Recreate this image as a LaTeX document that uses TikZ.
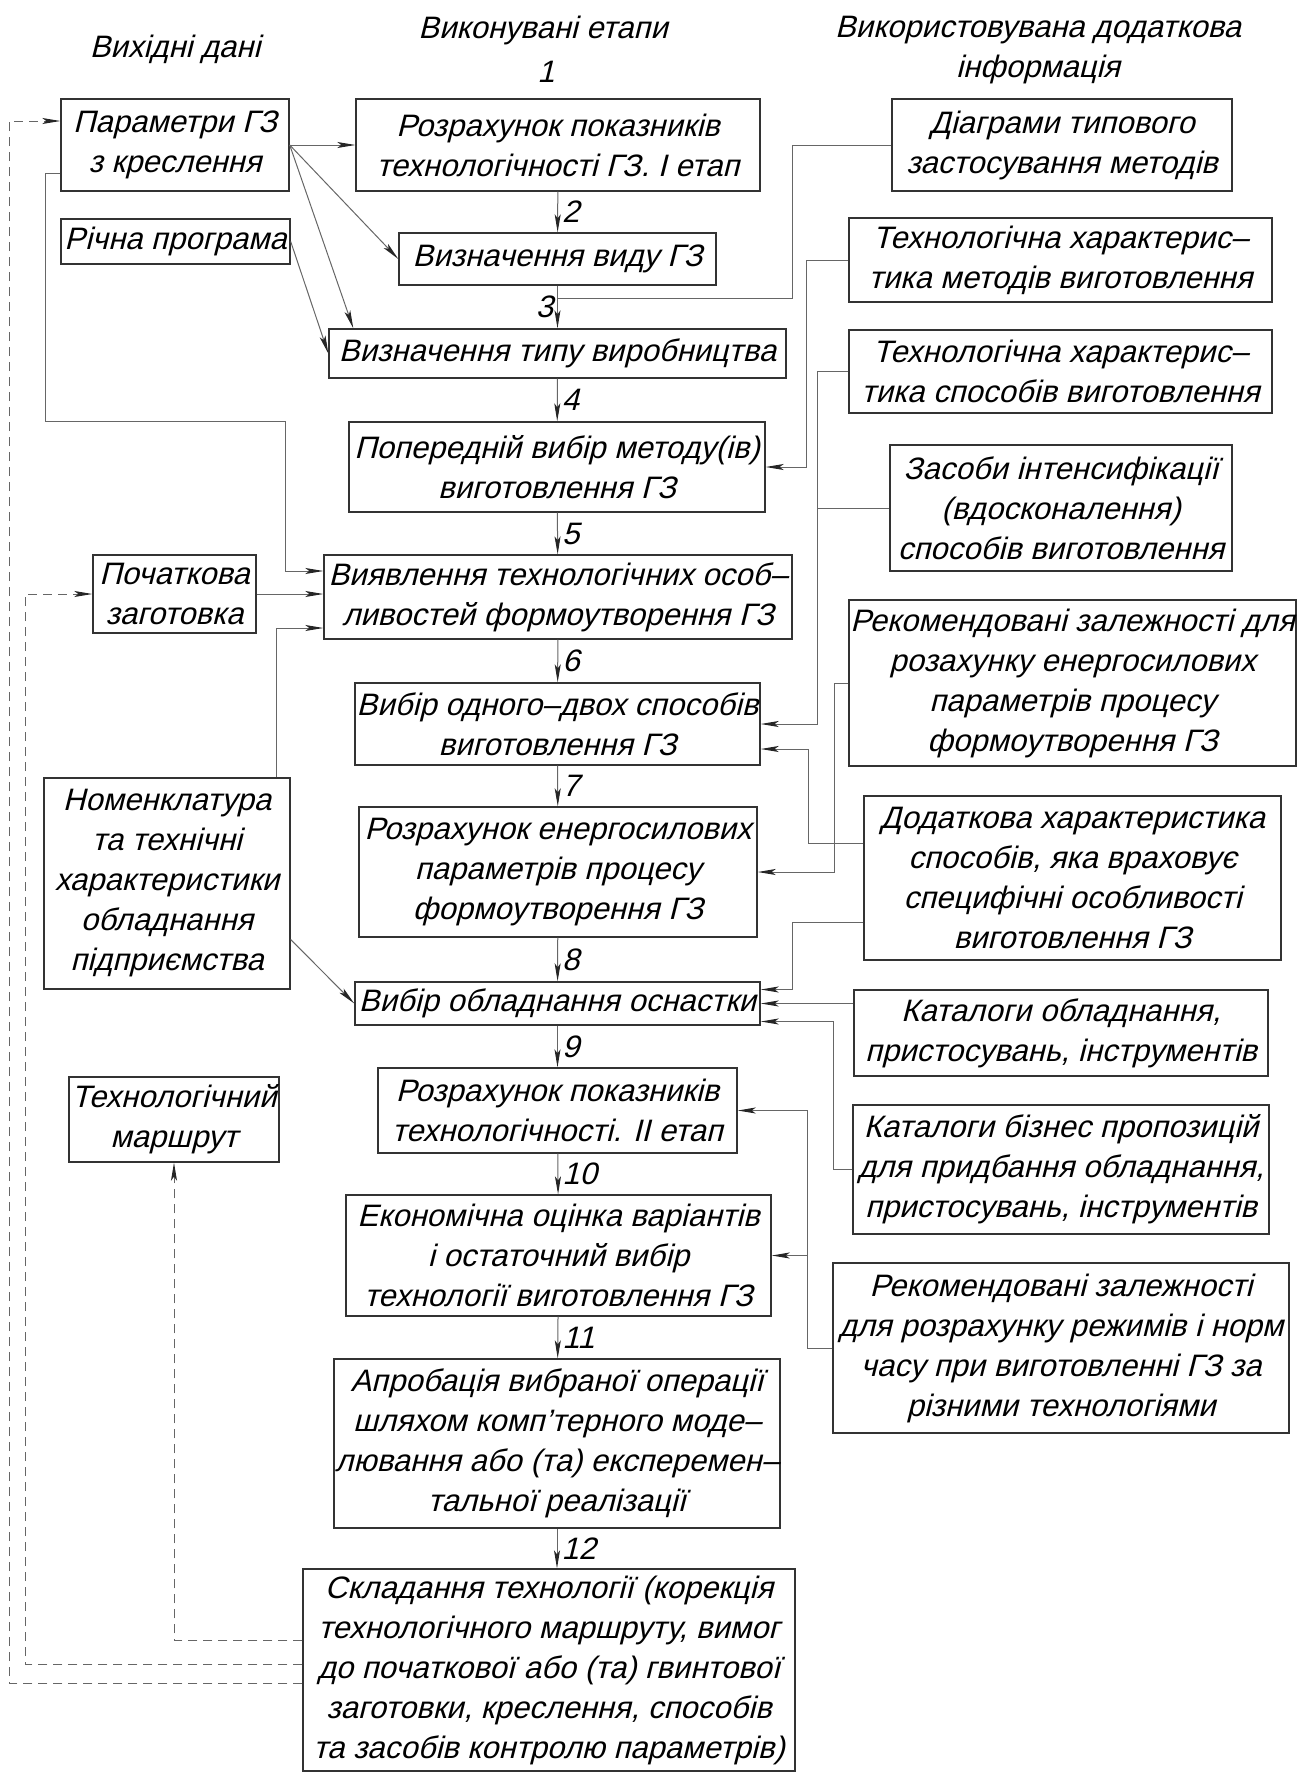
\documentclass[tikz,border=0pt]{standalone}
\usepackage{fontspec}
\setmainfont{Liberation Sans}[FakeSlant=0.25]
\usetikzlibrary{arrows.meta}

\tikzset{
  box/.style={draw=black!80, line width=1.4pt, align=center, inner sep=1pt},
  ln/.style={draw=black!60, line width=1pt},
  arr/.style={ln, -{Stealth[length=18pt,width=6pt,inset=4pt,color=black!85]}},
  fb/.style={arr, dashed, dash pattern=on 9pt off 6pt},
  num/.style={right, inner sep=4pt},
  head/.style={align=center}
}

\begin{document}
\begin{tikzpicture}[x=1pt, y=-1pt, font=\fontsize{31}{40}\selectfont]
  \useasboundingbox (0,0) rectangle (1311,1772);

  % column heads
  \node[head] (hvd) at (175,49) {Вихідні дані};
  \node[head] (hve) at (543,30) {Виконувані етапи};
  \node (n1) at (546,72) {1};
  \node[head] (hvi) at (1038,50) {Використовувана додаткова\\інформація};

  % input data
  \node[box, minimum width=228pt, minimum height=92pt] (par) at (175,145) {Параметри ГЗ\\з креслення};
  \node[box, minimum width=229pt, minimum height=45pt] (ric) at (175.5,241.5) {Річна програма};
  \node[box, minimum width=163pt, minimum height=78pt] (poch) at (174.5,594) {Початкова\\заготовка};
  \node[box, minimum width=246pt, minimum height=211pt] (nom) at (167,883.5) {Номенклатура\\та технічні\\характеристики\\обладнання\\підприємства};
  \node[box, minimum width=210pt, minimum height=85pt] (mar) at (174,1119.5) {Технологічний\\маршрут};

  % stages
  \node[box, minimum width=404pt, minimum height=92pt] (r1) at (558,145) {Розрахунок показників\\технологічності ГЗ. I етап};
  \node[box, minimum width=317pt, minimum height=52pt] (vid) at (557.5,259) {Визначення виду ГЗ};
  \node[box, minimum width=457pt, minimum height=49pt] (typ) at (557.5,353.5) {Визначення типу виробництва};
  \node[box, minimum width=416pt, minimum height=90pt] (pop) at (557,467) {Попередній вибір методу(ів)\\виготовлення ГЗ};
  \node[box, minimum width=468pt, minimum height=84pt] (viy) at (558,597) {Виявлення технологічних особ–\\ливостей формоутворення ГЗ};
  \node[box, minimum width=405pt, minimum height=82pt] (vyb) at (557.5,724) {Вибір одного–двох способів\\виготовлення ГЗ};
  \node[box, minimum width=398pt, minimum height=130pt] (ros) at (558,872) {Розрахунок енергосилових\\параметрів процесу\\формоутворення ГЗ};
  \node[box, minimum width=405pt, minimum height=43pt] (obl) at (557.5,1003.5) {Вибір обладнання оснастки};
  \node[box, minimum width=359pt, minimum height=85pt] (r2) at (557.5,1110.5) {Розрахунок показників\\технологічності. II етап};
  \node[box, minimum width=425pt, minimum height=121pt] (eko) at (558.5,1255.5) {Економічна оцінка варіантів\\і остаточний вибір\\технології виготовлення ГЗ};
  \node[box, minimum width=442pt, minimum height=169pt] (apr) at (557,1443.5) {Апробація вибраної операції\\шляхом комп’терного моде–\\лювання або (та) експеремен–\\тальної реалізації};
  \node[box, minimum width=492pt, minimum height=202pt] (sk) at (549,1670) {Складання технології (корекція\\технологічного маршруту, вимог\\до початкової або (та) гвинтової\\заготовки, креслення, способів\\та засобів контролю параметрів)};

  % additional information
  \node[box, minimum width=340pt, minimum height=92pt] (dia) at (1062,145) {Діаграми типового\\застосування методів};
  \node[box, minimum width=423pt, minimum height=84pt] (tmet) at (1060.5,260) {Технологічна характерис–\\тика методів виготовлення};
  \node[box, minimum width=423pt, minimum height=83pt] (tsp) at (1060.5,371.5) {Технологічна характерис–\\тика способів виготовлення};
  \node[box, minimum width=342pt, minimum height=126pt] (zas) at (1061,508) {Засоби інтенсифікації\\(вдосконалення)\\способів виготовлення};
  \node[box, minimum width=447pt, minimum height=166pt] (ren) at (1072.5,683) {Рекомендовані залежності для\\розахунку енергосилових\\параметрів процесу\\формоутворення ГЗ};
  \node[box, minimum width=417pt, minimum height=164pt] (dod) at (1072.5,878) {Додаткова характеристика\\способів, яка враховує\\специфічні особливості\\виготовлення ГЗ};
  \node[box, minimum width=414pt, minimum height=86pt] (kob) at (1061,1033) {Каталоги обладнання,\\пристосувань, інструментів};
  \node[box, minimum width=416pt, minimum height=129pt] (kbiz) at (1061,1169.5) {Каталоги бізнес пропозицій\\для придбання обладнання,\\пристосувань, інструментів};
  \node[box, minimum width=456pt, minimum height=170pt] (rrez) at (1061,1348) {Рекомендовані залежності\\для розрахунку режимів і норм\\часу при виготовленні ГЗ за\\різними технологіями};

  \coordinate (j3) at (558,298);

  % main sequence
  \draw[arr] (r1) -- node[num]{2} (vid);
  \draw[arr] (vid) -- node[num, left]{3} (typ);
  \draw[arr] (typ) -- node[num]{4} (pop);
  \draw[arr] (pop) -- node[num]{5} (viy);
  \draw[arr] (viy) -- node[num]{6} (vyb);
  \draw[arr] (vyb) -- node[num]{7} (ros);
  \draw[arr] (ros) -- node[num]{8} (obl);
  \draw[arr] (obl) -- node[num]{9} (r2);
  \draw[arr] (r2) -- node[num]{10} (eko);
  \draw[arr] (eko) -- node[num]{11} (apr);
  \draw[arr] (apr.south) -- node[num]{12} (apr.south |- sk.north);

  % from input data
  \draw[arr] (par) -- (r1);
  \draw[arr] (par.east) -- (vid.west);
  \draw[arr] (par.east) -- ([xshift=25pt]typ.north west);
  \draw[arr] (ric.east) -- (typ.west);
  \draw[arr] ([yshift=-28pt]par.west) -- ++(-15,0) -- ++(0,248) -- ++(240,0) |- ([yshift=26pt]viy.west);
  \draw[arr] (poch) -- (poch -| viy.west);
  \draw[arr] ([xshift=-14pt]nom.north east) |- ([yshift=-31pt]viy.west);
  \draw[arr] ([yshift=-56pt]nom.east) -- (obl.west);

  % feedback
  \draw[fb] ([yshift=30pt]sk.west) -| (mar.south);
  \draw[fb] ([yshift=6pt]sk.west) -| ([xshift=-67pt]poch.west) -- (poch.west);
  \draw[fb] ([yshift=-13pt]sk.west) -| ([xshift=-51pt,yshift=24pt]par.west) -- ([yshift=24pt]par.west);

  % from additional information
  \draw[ln] (dia.west) -- ++(-99,0) |- (j3);
  \draw[arr] (tmet.west) -- ++(-42,0) |- (pop.east);
  \draw[arr] (tsp.west) -- ++(-31,0) |- (vyb.east);
  \draw[ln] (zas.west) -- ++(-72,0);
  \draw[arr] (ren.west) -- ++(-14,0) |- (ros.east);
  \draw[arr] ([yshift=35pt]dod.west) -- ++(-55,0) |- ([yshift=-25pt]vyb.east);
  \draw[arr] ([yshift=-44pt]dod.west) -- ++(-71,0) |- ([yshift=14pt]obl.east);
  \draw[arr] (kob.west |- obl.east) -- (obl.east);
  \draw[arr] (kbiz.west) -- ++(-19,0) |- ([yshift=-18pt]obl.east);
  \draw[arr] (rrez.west) -- ++(-25,0) |- (r2.east);
  \draw[arr] ([xshift=-25pt]rrez.west |- eko.east) -- (eko.east);
\end{tikzpicture}
\end{document}
